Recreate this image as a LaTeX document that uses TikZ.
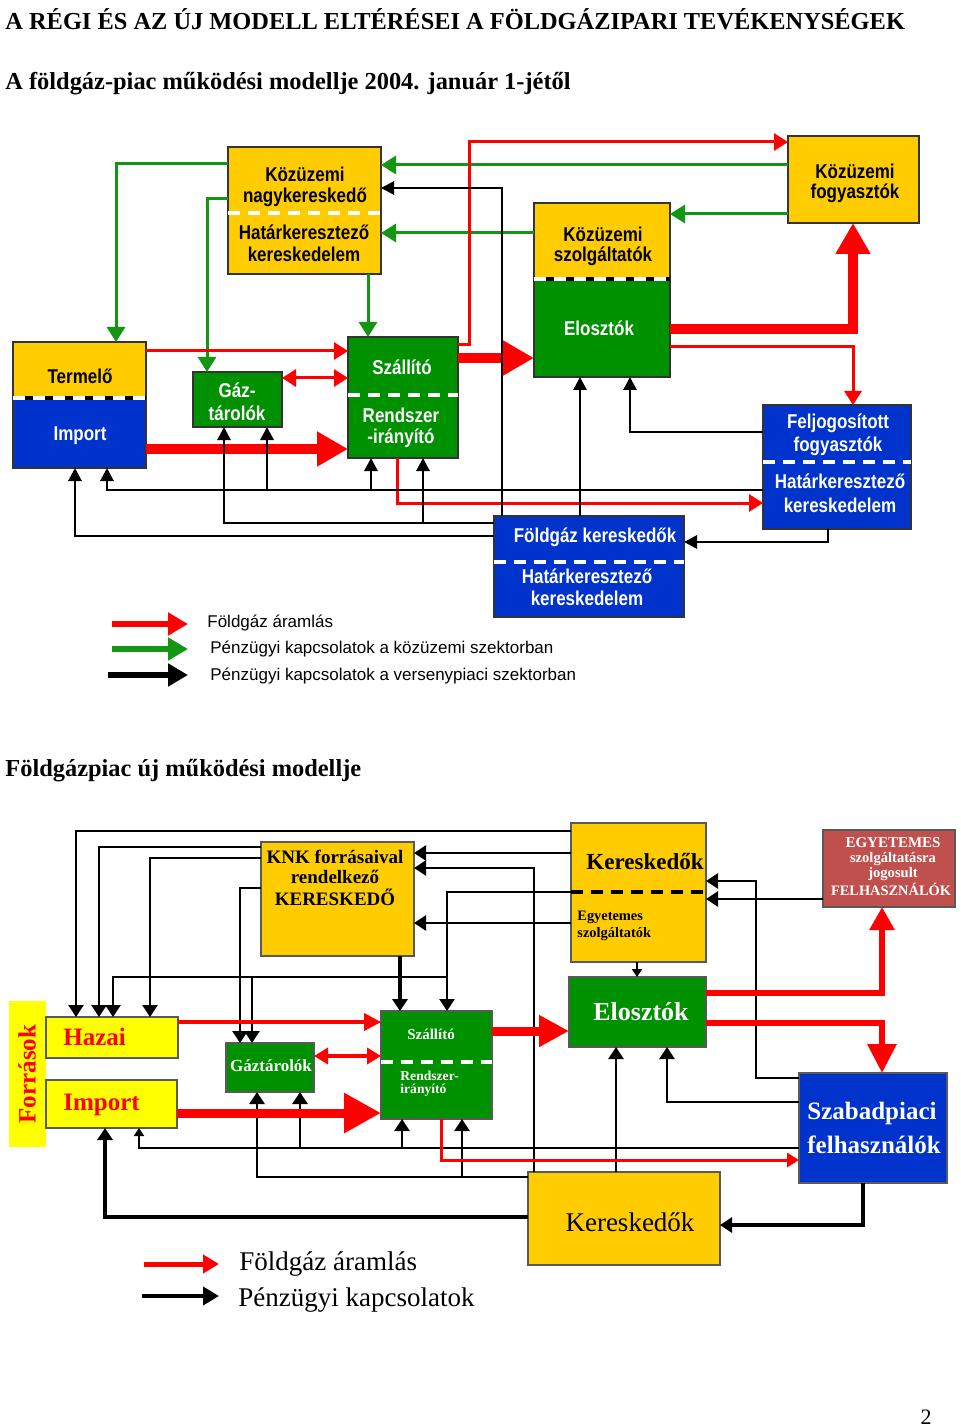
\documentclass[tikz,border=0pt]{standalone}
\usepackage{fontspec}
\setmainfont{Liberation Serif}
\newfontfamily\boxsans[FakeStretch=0.85]{Liberation Sans}
\newfontfamily\legsans{Liberation Sans}
\usetikzlibrary{arrows.meta}
\definecolor{kyellow}{RGB}{255,204,0}
\definecolor{lyellow}{RGB}{255,255,0}
\definecolor{bgreen}{RGB}{0,145,0}
\definecolor{lgreen}{RGB}{20,150,20}
\definecolor{bblue}{RGB}{0,51,204}
\definecolor{gred}{RGB}{255,0,0}
\definecolor{egyred}{RGB}{192,80,77}
\tikzset{
  box/.style={draw=black!80, line width=1pt, anchor=north west, inner sep=0pt, outer sep=0pt},
  ubox/.style={draw=black!65, line width=0.7pt, anchor=north west, inner sep=0pt, outer sep=0pt},
  wh/.style 2 args={minimum width=#1*0.5pt, minimum height=#2*0.5pt},
  title/.style={anchor=west, inner sep=0pt, font=\bfseries\fontsize{12.2}{14}\selectfont},
  tb/.style={inner sep=0pt, font=\boxsans\bfseries\fontsize{10}{12}\selectfont},
  us/.style={inner sep=0pt, font=\bfseries\fontsize{#1}{#1}\selectfont},
  leg/.style={anchor=west, inner sep=0pt, font=\legsans\fontsize{8.5}{10}\selectfont},
  uleg/.style={anchor=west, inner sep=0pt, font=\fontsize{13.5}{15}\selectfont},
  wdash/.style={white, line width=2pt, dash pattern=on 6pt off 4pt},
  gl/.style={draw=lgreen, line width=1.5pt, -{Triangle[length=7.5pt,width=9pt]}},
  bl/.style={draw=black, line width=1.4pt, -{Triangle[length=6.5pt,width=6.5pt]}},
  rl/.style={draw=gred, line width=1.5pt, -{Triangle[length=7pt,width=8.5pt]}},
  rthick/.style={draw=gred, line width=5pt, -{Triangle[length=15.5pt,width=16.5pt]}},
  ubl/.style={draw=black, line width=1.3pt, -{Triangle[length=6pt,width=7.5pt]}},
  smalltip/.style={-{Triangle[length=4pt,width=5pt]}},
  legarrow/.style={line width=3pt, -{Triangle[length=10pt,width=11pt]}}
}
\begin{document}
\begin{tikzpicture}[x=0.5pt,y=-0.5pt]
    \useasboundingbox [fill=white] (0,0) rectangle (960,1427);
    \node [title] (cim1) at (5,19) {A RÉGI ÉS AZ ÚJ MODELL ELTÉRÉSEI A FÖLDGÁZIPARI TEVÉKENYSÉGEK};
    \node [title] (cim2) at (5,84) {A földgáz-piac működési modellje 2004. január 1-jétől};
    \node [title] (cim3) at (5,771) {Földgázpiac új működési modellje};
    \node [anchor=east, inner sep=0pt, font=\fontsize{11}{13}\selectfont] (oldal) at (932,1417) {2};

    \node [box, wh={153}{127}, fill=kyellow] (kn) at (228,147) {};
    \node [box, wh={131}{87}, fill=kyellow] (kf) at (788,136) {};
    \node [box, wh={136}{76}, fill=kyellow] (ksz) at (534,203) {};
    \node [box, wh={136}{98}, fill=bgreen] (el) at (534,279) {};
    \node [box, wh={133}{56}, fill=kyellow] (ter) at (13,342) {};
    \node [box, wh={133}{70}, fill=bblue] (imp) at (13,398) {};
    \node [box, wh={89}{55}, fill=bgreen] (gt) at (193,372) {};
    \node [box, wh={110}{121}, fill=bgreen] (sz) at (348,337) {};
    \node [box, wh={148}{124}, fill=bblue] (fj) at (763,405) {};
    \node [box, wh={190}{101}, fill=bblue] (fk) at (494,516) {};
    \draw [wdash] (kn.west |- 0,213) -- (kn.east |- 0,213);
    \draw [line width=2pt] (ter.south west) -- (ter.south east);
    \draw [wdash] (ter.south west) -- (ter.south east);
    \draw [line width=2pt] (ksz.south west) -- (ksz.south east);
    \draw [wdash] (ksz.south west) -- (ksz.south east);
    \draw [wdash] (sz.west |- 0,395) -- (sz.east |- 0,395);
    \draw [wdash] (fj.west |- 0,462) -- (fj.east |- 0,462);
    \draw [wdash] (fk.west |- 0,562) -- (fk.east |- 0,562);

    \node [tb] (kn1) at (305,174) {Közüzemi};
    \node [tb] (kn2) at (305,197) {nagykereskedő};
    \node [tb] (kn3) at (304,232) {Határkeresztező};
    \node [tb] (kn4) at (304,254) {kereskedelem};
    \node [tb] (kf1) at (855,171) {Közüzemi};
    \node [tb] (kf2) at (855,193) {fogyasztók};
    \node [tb] (ksz1) at (603,234) {Közüzemi};
    \node [tb] (ksz2) at (603,256) {szolgáltatók};
    \node [tb, white] (el1) at (599,328) {Elosztók};
    \node [tb] (ter1) at (80,376) {Termelő};
    \node [tb, white] (imp1) at (80,436) {Import};
    \node [tb, white] (gt1) at (237,390) {Gáz-};
    \node [tb, white] (gt2) at (237,413) {tárolók};
    \node [tb, white] (sz1) at (402,367) {Szállító};
    \node [tb, white] (sz2) at (401,415) {Rendszer};
    \node [tb, white] (sz3) at (401,438) {-irányító};
    \node [tb, white] (fj1) at (838,423) {Feljogosított};
    \node [tb, white] (fj2) at (838,446) {fogyasztók};
    \node [tb, white] (fj3) at (840,481) {Határkeresztező};
    \node [tb, white] (fj4) at (840,505) {kereskedelem};
    \node [tb, white] (fk1) at (595,537) {Földgáz kereskedők};
    \node [tb, white] (fk2) at (587,576) {Határkeresztező};
    \node [tb, white] (fk3) at (587,598) {kereskedelem};

    \draw [gl] (kn.west |- 0,164) -| (ter.north -| 116,0);
    \draw [gl] (kn.west |- 0,199) -| (gt.north -| 207,0);
    \draw [gl] (kn.south -| 368,0) -- (sz.north -| 368,0);
    \draw [gl] (kf.west |- 0,165) -- (kn.east |- 0,165);
    \draw [gl] (kf.west |- 0,214) -- (ksz.east |- 0,214);
    \draw [gl] (ksz.west |- 0,233) -- (kn.east |- 0,233);

    \draw [rl] (sz.east |- 0,345) -| (469,142) -- (kf.west |- 0,142);
    \draw [rl] (ter.east |- 0,351) -- (sz.west |- 0,351);
    \draw [rl, {Triangle[length=7pt,width=8.5pt]}-{Triangle[length=7pt,width=8.5pt]}] (gt.east |- 0,378) -- (sz.west |- 0,378);
    \draw [rthick] (imp.east |- 0,449) -- (sz.west |- 0,449);
    \draw [rthick] (sz.east |- 0,358) -- (el.west |- 0,358);
    \draw [rthick] (el.east |- 0,329) -| (kf.south -| 853,0);
    \draw [rl] (el.east |- 0,347) -| (fj.north -| 853,0);
    \draw [rl] (sz.south -| 397,0) |- (fj.west |- 0,503);

    \coordinate (j1) at (267,490);
    \coordinate (j2) at (371,490);
    \coordinate (j3) at (423,523);
    \draw [bl] (fk.north -| 502,0) |- (kn.east |- 0,188);
    \draw [bl] (fk.north -| 580,0) -- (el.south -| 580,0);
    \draw [bl] (fj.west |- 0,432) -| (el.south -| 630,0);
    \draw [bl] (fj.south -| 828,0) |- (fk.east |- 0,542);
    \draw [bl] (fj.west |- 0,490) -| (imp.south -| 107,0);
    \draw [bl] (j1) -- (gt.south -| 267,0);
    \draw [bl] (j2) -- (sz.south -| 371,0);
    \draw [bl] (fk.west |- 0,523) -| (gt.south -| 224,0);
    \draw [bl] (j3) -- (sz.south -| 423,0);
    \draw [bl] (fk.west |- 0,536) -| (imp.south -| 75,0);

    \coordinate (lr1) at (112,624);
    \coordinate (lr2) at (188,624);
    \coordinate (lg1) at (112,649);
    \coordinate (lg2) at (188,649);
    \coordinate (lb1) at (108,675);
    \coordinate (lb2) at (188,675);
    \draw [legarrow, gred] (lr1) -- (lr2);
    \draw [legarrow, lgreen] (lg1) -- (lg2);
    \draw [legarrow, black] (lb1) -- (lb2);
    \node [leg] (lt1) at (207,623) {Földgáz áramlás};
    \node [leg] (lt2) at (210,649) {Pénzügyi kapcsolatok a közüzemi szektorban};
    \node [leg] (lt3) at (210,676) {Pénzügyi kapcsolatok a versenypiaci szektorban};

    \node [ubox, wh={37}{146}, fill=lyellow, draw=none] (forr) at (9,1001) {};
    \node [ubox, wh={132}{41}, fill=lyellow] (uhaz) at (46,1017) {};
    \node [ubox, wh={131}{48}, fill=lyellow] (uimp) at (46,1080) {};
    \node [ubox, wh={153}{114}, fill=kyellow] (uknk) at (261,842) {};
    \node [ubox, wh={88}{49}, fill=bgreen] (ugt) at (226,1043) {};
    \node [ubox, wh={111}{108}, fill=bgreen] (usz) at (381,1011) {};
    \node [ubox, wh={135}{139}, fill=kyellow] (uker) at (571,823) {};
    \node [ubox, wh={137}{70}, fill=bgreen] (uel) at (569,977) {};
    \node [ubox, wh={132}{77}, fill=egyred] (uegy) at (823,830) {};
    \node [ubox, wh={148}{110}, fill=bblue] (uszp) at (799,1073) {};
    \node [ubox, wh={192}{93}, fill=kyellow] (uker2) at (528,1172) {};
    \draw [wdash] (usz.west |- 0,1062) -- (usz.east |- 0,1062);
    \draw [line width=2pt, dash pattern=on 6pt off 4pt] (uker.west |- 0,892) -- (uker.east |- 0,892);

    \node [us=12.5, text=gred, rotate=90] (forrl) at (27,1074) {Források};
    \node [us=12.5, text=gred, anchor=west] (uhazl) at (63,1037) {Hazai};
    \node [us=12.5, text=gred, anchor=west] (uimpl) at (63,1105) {Import};
    \node [us=9.5] (uknk1) at (335,857) {KNK forrásaival};
    \node [us=9.5] (uknk2) at (335,877) {rendelkező};
    \node [us=9.5] (uknk3) at (335,897) {KERESKEDŐ};
    \node [us=8.5, white] (ugtl) at (271,1066) {Gáztárolók};
    \node [us=7.5, white] (usz1) at (431,1034) {Szállító};
    \node [us=6.8, white, anchor=west] (usz2) at (400,1076) {Rendszer-};
    \node [us=6.8, white, anchor=west] (usz3) at (400,1090) {irányító};
    \node [us=11.5] (uker1) at (645,861) {Kereskedők};
    \node [us=7.2, anchor=west] (uker3) at (577,917) {Egyetemes};
    \node [us=7.2, anchor=west] (uker4) at (577,934) {szolgáltatók};
    \node [us=13, white] (uell) at (641,1012) {Elosztók};
    \node [us=7.5, white] (uegy1) at (893,843) {EGYETEMES};
    \node [us=7.3, white] (uegy2) at (893,859) {szolgáltatásra};
    \node [us=7.3, white] (uegy3) at (893,874) {jogosult};
    \node [us=7.2, white] (uegy4) at (891,889) {FELHASZNÁLÓK};
    \node [us=12.5, white, anchor=west] (uszp1) at (807,1113) {Szabadpiaci};
    \node [us=12.5, white, anchor=west] (uszp2) at (807,1145) {felhasználók};
    \node [inner sep=0pt, font=\fontsize{13.5}{15}\selectfont] (uker2l) at (630,1222) {Kereskedők};

    \coordinate (uj1) at (447,977);
    \coordinate (uj2) at (252,977);
    \coordinate (uj3) at (300,1148);
    \coordinate (uj4) at (402,1148);
    \coordinate (uj5) at (462,1177);
    \draw [ubl] (uker.west |- 0,831) -| (uhaz.north -| 76,0);
    \draw [ubl] (uknk.west |- 0,847) -| (uhaz.north -| 99,0);
    \draw [ubl] (uknk.west |- 0,858) -| (uhaz.north -| 150,0);
    \draw [ubl] (uknk.west |- 0,888) -| (ugt.north -| 240,0);
    \draw [ubl] (uker.west |- 0,892) -| (usz.north -| 447,0);
    \draw [ubl] (uj1) -| (uhaz.north -| 113,0);
    \draw [ubl] (uj2) -- (ugt.north -| 252,0);
    \draw [ubl] (uker.west |- 0,853) -- (uknk.east |- 0,853);
    \draw [ubl] (uker2.north -| 534,0) |- (uknk.east |- 0,868);
    \draw [ubl] (uker.west |- 0,923) -- (uknk.east |- 0,923);
    \draw [ubl, line width=2pt] (uknk.south -| 400,0) -- (usz.north -| 400,0);
    \draw [ubl, smalltip] (uker.south -| 637,0) -- (uel.north -| 637,0);
    \draw [ubl] (uker2.north -| 616,0) -- (uel.south -| 616,0);
    \draw [ubl] (uszp.west |- 0,1102) -| (uel.south -| 667,0);
    \draw [ubl] (uszp.west |- 0,1078) -| (756,881) -- (uker.east |- 0,881);
    \draw [ubl] (uegy.west |- 0,899) -- (uker.east |- 0,899);
    \draw [ubl, smalltip] (uszp.west |- 0,1148) -| (uimp.south -| 139,0);
    \draw [ubl] (uj3) -- (ugt.south -| 300,0);
    \draw [ubl] (uj4) -- (usz.south -| 402,0);
    \draw [ubl] (uker2.west |- 0,1177) -| (ugt.south -| 257,0);
    \draw [ubl] (uj5) -- (usz.south -| 462,0);
    \draw [ubl, line width=2pt] (uker2.west |- 0,1217) -| (uimp.south -| 105,0);
    \draw [ubl, line width=2pt] (uszp.south -| 863,0) |- (uker2.east |- 0,1225);

    \draw [gred, line width=2pt, -{Triangle[length=8.5pt,width=8.5pt]}] (uhaz.east |- 0,1022) -- (usz.west |- 0,1022);
    \draw [gred, line width=2pt, {Triangle[length=7pt,width=8pt]}-{Triangle[length=7pt,width=8pt]}] (ugt.east |- 0,1056) -- (usz.west |- 0,1056);
    \draw [gred, line width=4.5pt, -{Triangle[length=18.5pt,width=19pt]}] (uimp.east |- 0,1113) -- (usz.west |- 0,1113);
    \draw [gred, line width=4.5pt, -{Triangle[length=15pt,width=15pt]}] (usz.east |- 0,1031) -- (uel.west |- 0,1031);
    \draw [gred, line width=3pt, -{Triangle[length=11.5pt,width=12pt]}] (uel.east |- 0,993) -| (uegy.south -| 882,0);
    \draw [gred, line width=3pt, -{Triangle[length=14.5pt,width=14pt]}] (uel.east |- 0,1023) -| (uszp.north -| 882,0);
    \draw [gred, line width=1.5pt, -{Triangle[length=6pt,width=7pt]}] (usz.south -| 441,0) |- (uszp.west |- 0,1160);

    \coordinate (ulr1) at (144,1264);
    \coordinate (ulr2) at (219,1264);
    \coordinate (ulb1) at (142,1296);
    \coordinate (ulb2) at (219,1296);
    \draw [gred, line width=2.5pt, -{Triangle[length=8pt,width=9pt]}] (ulr1) -- (ulr2);
    \draw [black, line width=2pt, -{Triangle[length=8pt,width=9pt]}] (ulb1) -- (ulb2);
    \node [uleg] (ul1) at (239,1264) {Földgáz áramlás};
    \node [uleg] (ul2) at (238,1300) {Pénzügyi kapcsolatok};
\end{tikzpicture}
\end{document}
